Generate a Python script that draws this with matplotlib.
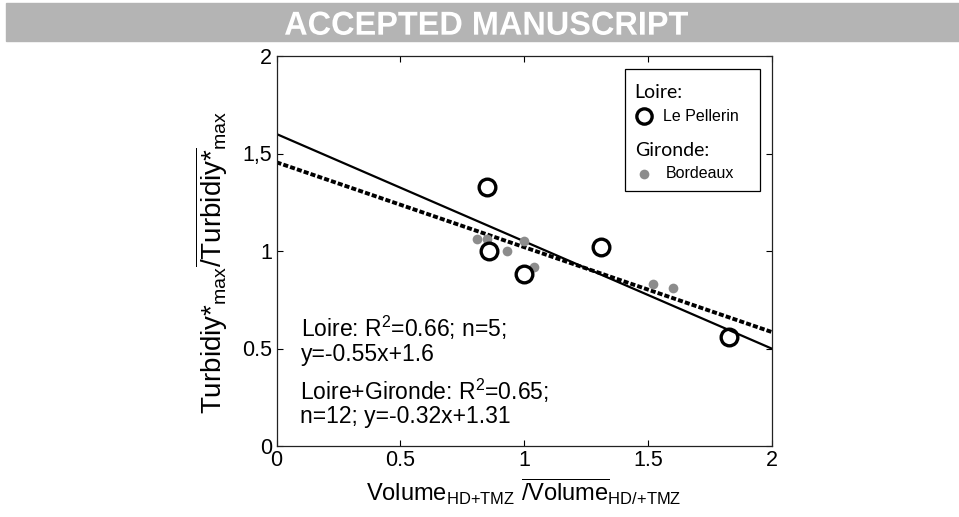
import matplotlib.pyplot as plt
from matplotlib.patches import Rectangle, PathPatch
from matplotlib.textpath import TextPath
from matplotlib.font_manager import FontProperties
from matplotlib.transforms import Affine2D, IdentityTransform
import numpy as np

plt.rcParams['font.family'] = 'Liberation Sans'
plt.rcParams['mathtext.fontset'] = 'custom'
plt.rcParams['mathtext.rm'] = 'Liberation Sans'
plt.rcParams['mathtext.it'] = 'Liberation Sans:italic'
plt.rcParams['mathtext.bf'] = 'Liberation Sans:bold'

# Loire (Le Pellerin) y Gironde (Bordeaux)
pellerin_x = [0.85, 0.86, 1.00, 1.31, 1.83]
pellerin_y = [1.33, 1.00, 0.88, 1.02, 0.56]
bordeaux_x = [0.81, 0.85, 0.93, 1.00, 1.04, 1.52, 1.60]
bordeaux_y = [1.06, 1.06, 1.00, 1.05, 0.92, 0.83, 0.81]

# rectas de ajuste (pendiente, ordenada)
fit_loire = (-0.55, 1.60)
fit_total = (-0.435, 1.455)

x_ticks = [0, 0.5, 1, 1.5, 2]
x_ticklabels = ['0', '0.5', '1', '1.5', '2']
y_ticks = [0, 0.5, 1, 1.5, 2]
y_ticklabels = ['0', '0.5', '1', '1,5', '2']

W, H = 959, 517
fig = plt.figure(figsize=(W / 100, H / 100), dpi=100)

# banda superior
fig.patches.append(Rectangle((6 / W, 1 - 41 / H), 1, 38 / H,
                             transform=fig.transFigure, color='#b4b4b4', zorder=0))
tp = TextPath((0, 0), 'ACCEPTED MANUSCRIPT', size=30,
              prop=FontProperties(family='Liberation Sans', weight='bold'))
ext = tp.get_extents()
sx = 403 / ext.width
sy = 23.5 / ext.height
tr = Affine2D().translate(-ext.x0, -ext.y0).scale(sx, sy).translate(285, H - 35)
fig.patches.append(PathPatch(tr.transform_path(tp), transform=IdentityTransform(),
                             fc='white', ec='none', zorder=1))

ax = fig.add_axes([276.5 / W, 1 - 446 / H, 495 / W, 390 / H])

xx = np.array([0.0, 2.0])
ax.plot(xx, fit_loire[0] * xx + fit_loire[1], color='k', lw=1.6, zorder=2)
ax.plot(xx, fit_total[0] * xx + fit_total[1], color='k', lw=2.8,
        linestyle=(0, (1.3, 0.55)), zorder=2)
ax.plot(bordeaux_x, bordeaux_y, 'o', color='#8c8c8c', ms=7, mec='none', zorder=3)
ax.plot(pellerin_x, pellerin_y, 'o', mfc='none', mec='k', mew=2.4, ms=12, zorder=4)

ax.set_xlim(0, 2)
ax.set_ylim(0, 2)
ax.set_xticks(x_ticks)
ax.set_xticklabels(x_ticklabels)
ax.set_yticks(y_ticks)
ax.set_yticklabels(y_ticklabels)
ax.tick_params(direction='in', length=4, width=0.8, top=True, right=True,
               labelsize=15.5, pad=3)
for s in ax.spines.values():
    s.set_linewidth(0.9)
    s.set_color('#222222')

ax.set_xlabel(r'$\mathrm{Volume_{HD{+}TMZ}\ \overline{/Volume}_{HD/{+}TMZ}}$',
              fontsize=17)
ax.xaxis.set_label_coords(0.5, -0.078)
ax.set_ylabel(r'$\mathrm{Turbidiy{*}_{max}\overline{/Turbidiy{*}}_{max}}$',
              fontsize=20)
ax.yaxis.set_label_coords(-0.094, 0.472)

# textos de las regresiones
ax.text(0.10, 0.606, r'Loire: R$^2$=0.66; n=5;', fontsize=16.5, va='center')
ax.text(0.10, 0.467, 'y=-0.55x+1.6', fontsize=16.5, va='center')
ax.text(0.093, 0.282, r'Loire+Gironde: R$^2$=0.65;', fontsize=16.5, va='center')
ax.text(0.093, 0.15, 'n=12; y=-0.32x+1.31', fontsize=16.5, va='center')

# leyenda
ax.add_patch(Rectangle((0.704, 0.653), 0.273, 0.313, transform=ax.transAxes,
                       fill=False, ec='k', lw=0.9, zorder=5))
ax.text(0.723, 0.906, 'Loire:', transform=ax.transAxes, fontsize=14,
        family='Lato', va='center', zorder=6)
ax.plot([0.743], [0.846], 'o', transform=ax.transAxes, mfc='none', mec='k',
        mew=2.4, ms=11, clip_on=False, zorder=6)
ax.text(0.78, 0.846, 'Le Pellerin', transform=ax.transAxes, fontsize=11.5,
        va='center', zorder=6)
ax.text(0.725, 0.757, 'Gironde:', transform=ax.transAxes, fontsize=14,
        family='Lato', va='center', zorder=6)
ax.plot([0.743], [0.698], 'o', transform=ax.transAxes, color='#8c8c8c',
        mec='none', ms=7, clip_on=False, zorder=6)
ax.text(0.786, 0.698, 'Bordeaux', transform=ax.transAxes, fontsize=11.5,
        va='center', zorder=6)

plt.savefig('out.png', dpi=100)
